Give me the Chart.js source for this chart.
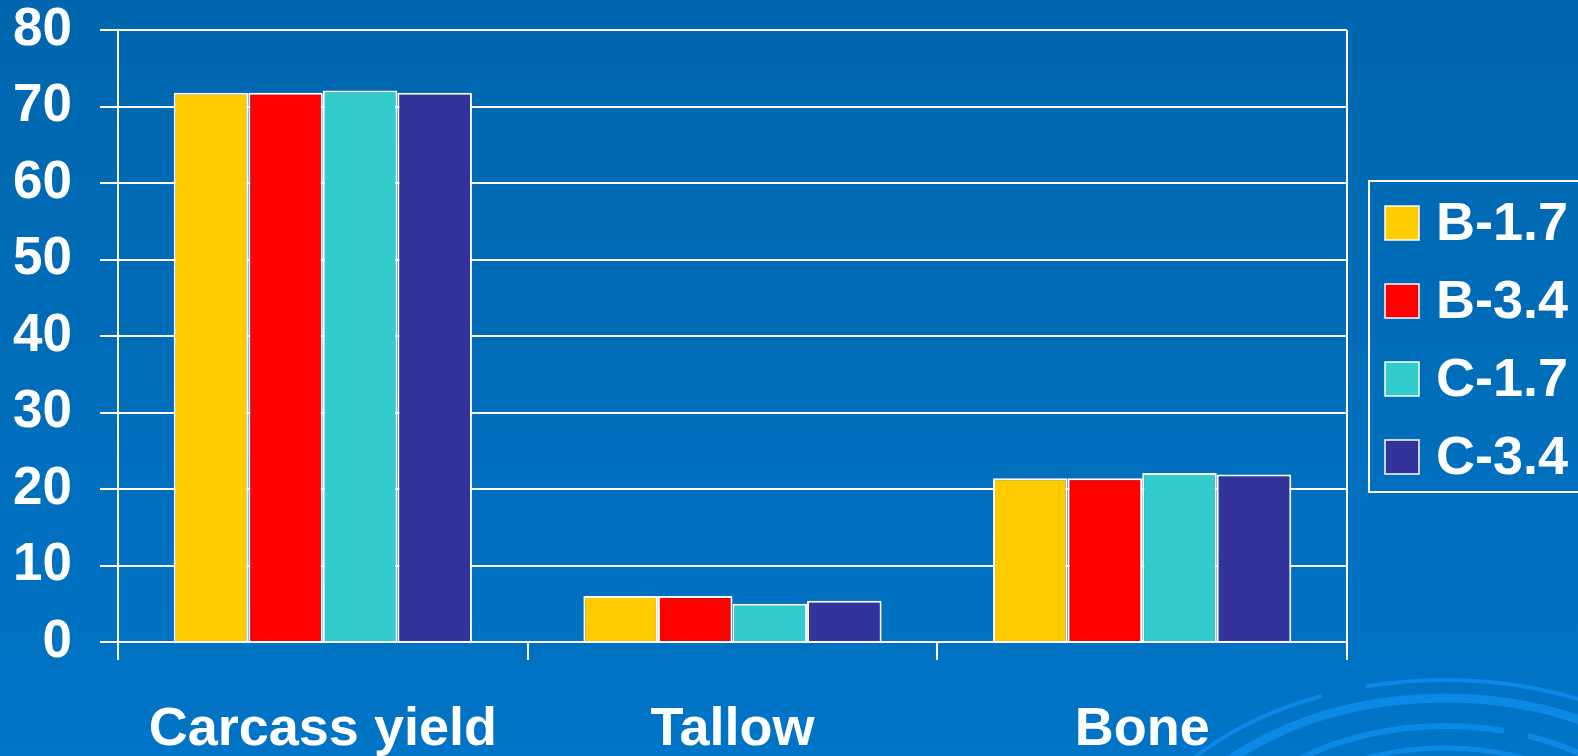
<!DOCTYPE html>
<html>
<head>
<meta charset="utf-8">
<script src="https://cdn.jsdelivr.net/npm/chart.js@4/dist/chart.umd.min.js"></script>
<style>
  html, body { margin: 0; padding: 0; background: #0069b2; overflow: hidden; }
  #chart { display: block; }
</style>
</head>
<body>
<canvas id="chart" width="1578" height="756"></canvas>
<script>
// carcass composition by treatment
var categories = ['Carcass yield', 'Tallow', 'Bone'];
var seriesNames = ['B-1.7', 'B-3.4', 'C-1.7', 'C-3.4'];
var b17 = [71.8, 6.0, 21.4];
var b34 = [71.8, 6.0, 21.4];
var c17 = [72.1, 5.0, 22.1];
var c34 = [71.8, 5.4, 21.9];
var seriesColors = ['#ffcc00', '#ff0000', '#33cccc', '#333399'];
var yMin = 0, yMax = 80, yStep = 10;

var FONT = '"Liberation Sans", Arial, sans-serif';
Chart.defaults.font.family = FONT;
Chart.defaults.color = '#ffffff';

// blue slide background with faint rings in the lower right corner
var backdrop = {
  id: 'backdrop',
  beforeDraw: function(chart) {
    var c = chart.ctx, w = chart.width, h = chart.height;
    c.save();
    var g = c.createLinearGradient(0, 0, 0, h);
    g.addColorStop(0, '#0066ad');
    g.addColorStop(1, '#0074c6');
    c.fillStyle = g;
    c.fillRect(0, 0, w, h);
    c.strokeStyle = 'rgba(14, 140, 236, 0.85)';
    var rings = [
      { rx: 330, ry: 222, lw: 4, from: 3.45, to: 4.33 },
      { rx: 330, ry: 222, lw: 4, from: 4.47, to: 6.1 },
      { rx: 300, ry: 204, lw: 9, from: 3.35, to: 6.2 },
      { rx: 250, ry: 176, lw: 6, from: 3.9, to: 4.95 },
      { rx: 250, ry: 176, lw: 6, from: 5.05, to: 6.0 },
      { rx: 220, ry: 154, lw: 5, from: 3.6, to: 6.1 }
    ];
    rings.forEach(function(r) {
      c.lineWidth = r.lw;
      c.beginPath();
      c.ellipse(1445, 902, r.rx, r.ry, 0, r.from, r.to);
      c.stroke();
    });
    c.restore();
  }
};

// boxed legend on the right
var boxLegend = {
  id: 'boxLegend',
  afterDraw: function(chart) {
    var c = chart.ctx;
    c.save();
    c.strokeStyle = '#ffffff';
    c.lineWidth = 2;
    c.strokeRect(1369, 181, 220, 311);
    c.font = 'bold 54px ' + FONT;
    c.textBaseline = 'middle';
    c.textAlign = 'left';
    chart.data.datasets.forEach(function(ds, i) {
      var cy = 223 + i * 78;
      c.fillStyle = ds.backgroundColor;
      c.fillRect(1385, cy - 17, 34, 34);
      c.lineWidth = 1.5;
      c.strokeRect(1385, cy - 17, 34, 34);
      c.fillStyle = '#ffffff';
      c.fillText(ds.label, 1436, cy + 2);
    });
    c.restore();
  }
};

var datasets = [b17, b34, c17, c34].map(function(vals, i) {
  return {
    label: seriesNames[i],
    data: vals,
    backgroundColor: seriesColors[i],
    borderColor: '#ffffff',
    borderWidth: 2,
    categoryPercentage: 0.728,
    barPercentage: 1.0
  };
});

new Chart(document.getElementById('chart'), {
  type: 'bar',
  data: { labels: categories, datasets: datasets },
  plugins: [backdrop, boxLegend],
  options: {
    responsive: false,
    animation: false,
    layout: { padding: { left: 0, right: 231, top: 30, bottom: 0 } },
    plugins: {
      legend: { display: false },
      tooltip: { enabled: false }
    },
    scales: {
      x: {
        afterFit: function(s) { s.height = 114; },
        grid: {
          offset: true,
          drawOnChartArea: true,
          color: function(ctx) { return ctx.type === 'scale' ? '#ffffff' : 'rgba(0,0,0,0)'; },
          tickColor: '#ffffff',
          lineWidth: 2,
          tickLength: 18
        },
        border: { color: '#ffffff', width: 2 },
        ticks: {
          color: '#ffffff',
          padding: 38,
          maxRotation: 0,
          font: { size: 54, weight: 'bold', lineHeight: 1.2 }
        }
      },
      y: {
        min: yMin,
        max: yMax,
        // keep the plot top pinned to the layout padding
        afterFit: function(s) { s.width = 118; s.paddingTop = 0; s.paddingBottom = 0; },
        grid: { color: '#ffffff', lineWidth: 2, tickLength: 18 },
        border: { color: '#ffffff', width: 2 },
        ticks: {
          stepSize: yStep,
          color: '#ffffff',
          padding: 28,
          font: { size: 53, weight: 'bold', lineHeight: 1.1 }
        }
      }
    }
  }
});
</script>
</body>
</html>
